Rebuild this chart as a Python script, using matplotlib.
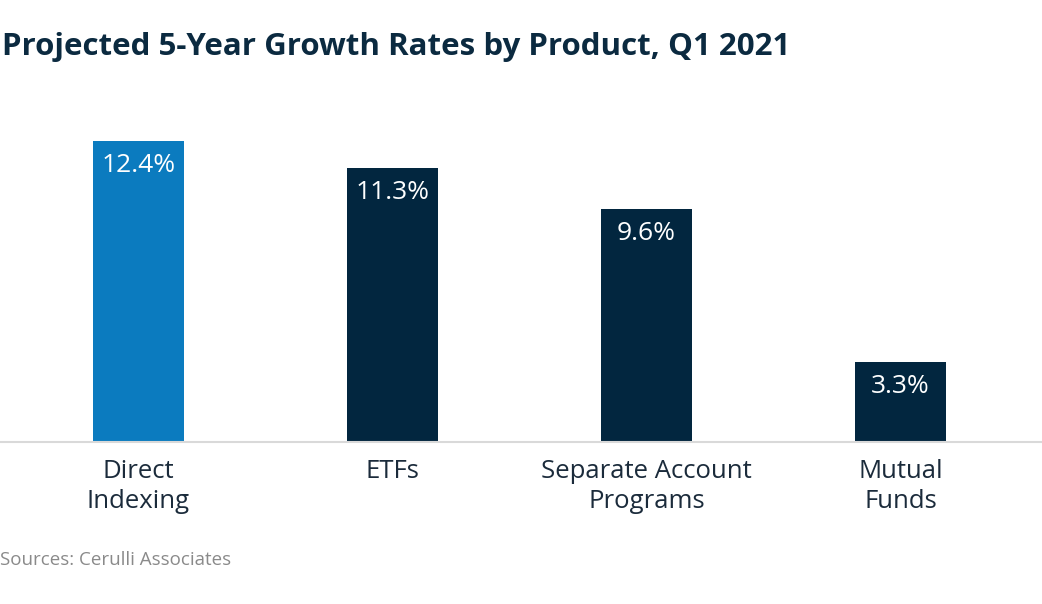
import matplotlib
matplotlib.use("Agg")
import matplotlib.pyplot as plt

categories = ["Direct\nIndexing", "ETFs", "Separate Account\nPrograms", "Mutual\nFunds"]
values = [12.4, 11.3, 9.6, 3.3]
value_labels = ["12.4%", "11.3%", "9.6%", "3.3%"]
colors = ["#0b7bbf", "#02263f", "#02263f", "#02263f"]

plt.rcParams['font.family'] = ['Open Sans', 'DejaVu Sans']

W, H = 1042, 604
fig = plt.figure(figsize=(W / 100, H / 100), dpi=100)
base_px = 442
ymax = 14.0
ax_h = 24.27 * ymax
ax = fig.add_axes([0, (H - base_px) / H, 1, ax_h / H])

x = list(range(len(categories)))
ax.bar(x, values, width=0.358, color=colors, zorder=2)
ax.set_xlim(-138.5 / 254, (W - 138.5) / 254)
ax.set_ylim(0, ymax)

for xi, v, lab in zip(x, values, value_labels):
    ax.annotate(lab, (xi, v), xytext=(0, -8.5), textcoords="offset points",
                ha="center", va="top", color="white", fontsize=19)

for s in ["top", "right", "left"]:
    ax.spines[s].set_visible(False)
ax.spines["bottom"].set_color("#d9d9d9")
ax.spines["bottom"].set_linewidth(1.5)
ax.set_yticks([])
ax.set_xticks(x)
ax.set_xticklabels(categories, fontsize=18.5, color="#1b2b3b", linespacing=1.3)
ax.tick_params(axis="x", length=0, pad=12)
ax.patch.set_alpha(0)

fig.text(2 / W, 1 - 47 / H, "Projected 5-Year Growth Rates by Product, Q1 2021",
         fontsize=22.5, fontweight="bold", color="#0b2a40", va="center", ha="left")
fig.text(0 / W, 1 - 560 / H, "Sources: Cerulli Associates", fontsize=13.5,
         color="#8a8a8a", va="center", ha="left")

fig.savefig("out.png", dpi=100)
